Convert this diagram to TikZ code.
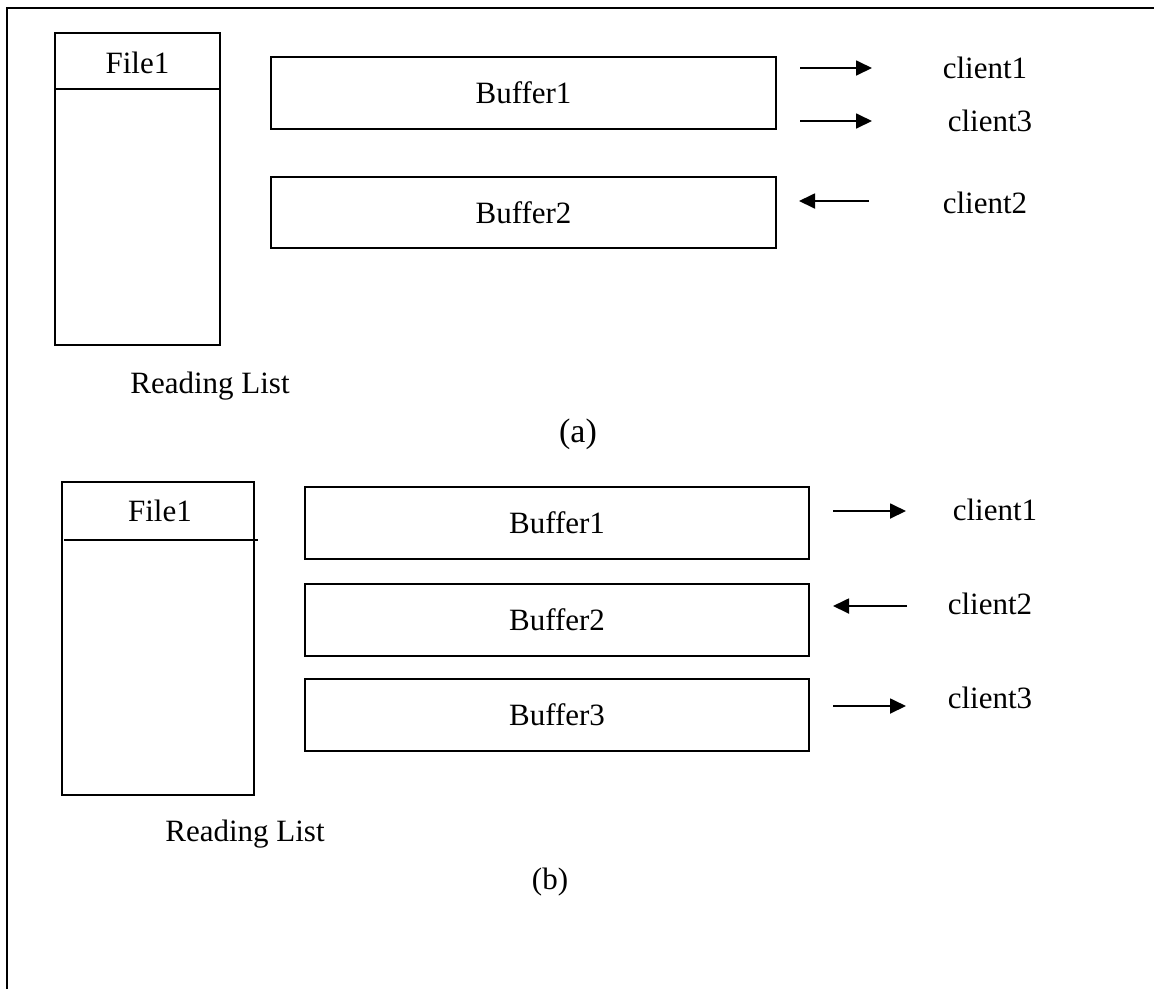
\documentclass[tikz,border=0pt]{standalone}
\usepackage{fontspec}
\setmainfont{Liberation Serif}
\usetikzlibrary{arrows.meta}
\begin{document}
\begin{tikzpicture}[x=1pt,y=-1pt,
  frame/.style={line width=2pt},
  box/.style={draw,line width=1.7pt,rectangle,inner sep=0pt},
  divider/.style={line width=1.7pt},
  lbl/.style={font=\fontsize{31}{37}\selectfont,inner sep=0pt},
  caption/.style={font=\fontsize{34}{40}\selectfont,inner sep=0pt},
  flow/.style={line width=1.8pt,-{Triangle[length=16pt,width=15pt]}}]
\useasboundingbox (0,0) rectangle (1154,989);

% page frame: top and left edges
\draw[frame] (7,989) -- (7,8) -- (1154,8);

% ---------- (a) ----------
\node[box,minimum width=165pt,minimum height=312pt] (fileA) at (137.5,189) {};
\draw[divider] (55,89) -- (220,89);
\node[lbl] (fileAlbl) at (137.5,63) {File1};
\node[lbl] (readA) at (210,386) {Reading List};

\node[box,lbl,minimum width=505pt,minimum height=72pt] (bufA1) at (523.5,93) {Buffer1};
\node[box,lbl,minimum width=505pt,minimum height=71pt] (bufA2) at (523.5,212.5) {Buffer2};

\coordinate (a1s) at (800,68);  \coordinate (a1e) at (872,68);
\coordinate (a3s) at (800,121); \coordinate (a3e) at (872,121);
\coordinate (a2s) at (869,201); \coordinate (a2e) at (799,201);
\draw[flow] (a1s) -- (a1e);
\draw[flow] (a3s) -- (a3e);
\draw[flow] (a2s) -- (a2e);

\node[lbl] (cA1) at (985,68) {client1};
\node[lbl] (cA3) at (990,121) {client3};
\node[lbl] (cA2) at (985,203) {client2};

\node[caption] (capA) at (578,434) {(a)};

% ---------- (b) ----------
\node[box,minimum width=192pt,minimum height=313pt] (fileB) at (158,638.5) {};
\draw[divider] (64,540) -- (258,540);
\node[lbl] (fileBlbl) at (160,511) {File1};
\node[lbl] (readB) at (245,834) {Reading List};

\node[box,lbl,minimum width=504pt,minimum height=72pt] (bufB1) at (557,523) {Buffer1};
\node[box,lbl,minimum width=504pt,minimum height=72pt] (bufB2) at (557,620) {Buffer2};
\node[box,lbl,minimum width=504pt,minimum height=72pt] (bufB3) at (557,715) {Buffer3};

\coordinate (b1s) at (833,511); \coordinate (b1e) at (906,511);
\coordinate (b2s) at (907,606); \coordinate (b2e) at (833,606);
\coordinate (b3s) at (833,706); \coordinate (b3e) at (906,706);
\draw[flow] (b1s) -- (b1e);
\draw[flow] (b2s) -- (b2e);
\draw[flow] (b3s) -- (b3e);

\node[lbl] (cB1) at (995,510) {client1};
\node[lbl] (cB2) at (990,604) {client2};
\node[lbl] (cB3) at (990,698) {client3};

\node[lbl] (capB) at (550,882) {(b)};
\end{tikzpicture}
\end{document}
